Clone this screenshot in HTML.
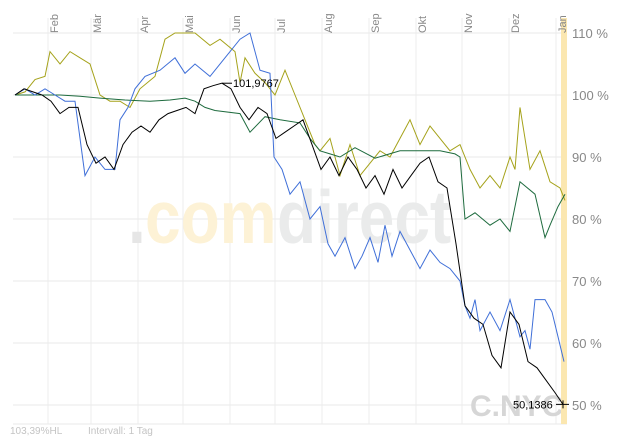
<!DOCTYPE html>
<html><head><meta charset="utf-8"><style>
body{margin:0;background:#fff;}
svg{display:block;font-family:"Liberation Sans",sans-serif;}
</style></head><body>
<svg id="chart" width="629" height="440" viewBox="0 0 629 440">
<g id="grid"></g>
<g transform="translate(128,243) scale(1,1.18)">
<text x="0" y="0" font-size="64" font-weight="bold" fill="#e6e6e6">.</text>
<text x="17" y="0" font-size="64" font-weight="bold" fill="#fdf2d6">com</text>
<text x="149" y="0" font-size="64" font-weight="bold" fill="#eaebeb">direct</text>
</g>
<text x="470" y="416" font-size="30" font-weight="bold" fill="#d6d6d6">C.NYC</text>
<rect x="561" y="18" width="6" height="406" fill="#fbe7b0"/>
<g id="series"></g>
<g id="labels"></g>
<text x="10" y="434" font-size="10" fill="#c4c4c4">103,39%HL</text>
<text x="88" y="434" font-size="10" fill="#c4c4c4">Intervall: 1 Tag</text>
</svg>
<script>
const months=["Feb","Mär","Apr","Mai","Jun","Jul","Aug","Sep","Okt","Nov","Dez","Jan"];
const monthX=[48,91,138,183,230,275,322,369,416,462,509,556];
const yTicks=[110,100,90,80,70,60,50];
const blackX=[15,24,33,42,51,60,69,78,87,96,105,114,123,132,141,150,159,168,177,186,195,204,213,222,231,240,249,258,267,276,285,294,303,312,321,330,339,348,357,366,375,384,393,402,411,420,429,438,447,456,465,474,483,492,501,510,519,528,537,546,555,563];
const blackV=[100,101,100.5,100,99,97,98,98,92,89,90,88,92,94,95,94,96,97,97.5,98,97,101,101.5,101.9,101,98,96,98,97,93,94,95,96,92,88,90,87,90,88,85,87,84,88,85,87,89,90,86,85,76,66,64,63,58,56,65,63,57,56,54,52,50.1];
const blueX=[15,25,35,45,55,65,75,85,95,105,115,120,128,135,145,160,175,185,195,210,225,240,250,260,270,274,282,290,300,310,320,328,335,345,355,362,370,378,385,392,400,410,420,430,440,450,460,465,470,475,480,490,500,510,520,525,530,535,545,552,558,564];
const blueV=[100,101,100,101,100,99,99,87,90,88,88,96,98,101,103,104,106,103.5,105,103,106,109,110,104,103.5,90,88,84,86,80,82,76,74,77,72,74,77,73,79,74,78,75,72,75,73,72,70,66,64,67,62,65,62,67,61,62,59,67,67,65,61,57];
const oliveX=[15,25,35,45,50,60,70,80,90,100,110,120,130,140,155,165,175,185,195,210,220,235,240,245,255,265,275,285,295,305,315,320,330,340,350,360,370,380,390,400,410,420,430,440,450,460,470,480,490,500,510,515,520,530,540,550,560,565];
const oliveV=[100,100.5,102.5,103,107,105,107,106,105,100,99,99,98,101,103,109,110,110,110,108,109,107,102,106,103.5,102,100,104,100,96,92,91,93,87,92,87,89,91,90,93,96,92,95,93,91,92,88,85,87,85,90,88,98,88,91,86,85,83];
const greenX=[15,40,60,80,100,125,150,170,185,195,205,215,240,250,265,280,300,310,320,330,340,355,375,400,420,440,455,460,465,475,490,500,510,520,535,545,550,558,565];
const greenV=[100,100,100,99.8,99.5,99.2,99,99.2,99.5,99,98,97.5,97,94,96.5,96,95.5,93,91,90.5,90,91.5,89.8,91,91,91,90.5,90,80,81,79,80,78,86,84,77,79,82,84];
const Y=v=>95+(100-v)*6.2;
const NS="http://www.w3.org/2000/svg";
const grid=document.getElementById('grid'),ser=document.getElementById('series'),lab=document.getElementById('labels');
function mk(tag,attrs,parent){const e=document.createElementNS(NS,tag);for(const k in attrs)e.setAttribute(k,attrs[k]);parent.appendChild(e);return e;}
yTicks.forEach(t=>{
 const l=mk('line',{x1:13,x2:567,y1:Y(t),y2:Y(t),stroke:'#e8e8e8'},grid);
 
 
 const tx=mk('text',{x:572,y:Y(t)+5,'font-size':13,fill:'#888'},lab);
 tx.textContent=t+' %';
 
 
});
const bl=mk('line',{x1:13,x2:567,y1:424,y2:424,stroke:'#e8e8e8'},grid);


months.forEach((m,i)=>{
 const x=monthX[i];
 const l=mk('line',{x1:x,x2:x,y1:18,y2:424,stroke:'#ececec'},grid);
 
 
 const tx=mk('text',{x:0,y:0,'font-size':11,fill:'#888',transform:`translate(${x+10},33) rotate(-90)`},lab);
 tx.textContent=m;
 
 
});
function line(xs,vs,color,name){
 const d=xs.map((x,i)=>(i?'L':'M')+x+' '+Y(vs[i]).toFixed(1)).join(' ');
 const p=mk('path',{d:d,fill:'none',stroke:color,'stroke-width':1},ser);
 
 
}
line(oliveX,oliveV,'#a5a21a','series-olive');
line(greenX,greenV,'#1e6b3e','series-green');
line(blueX,blueV,'#3f6fd8','series-blue');
line(blackX,blackV,'#000','series-c-nyc');
const maxV=Math.max(...blackV),lastV=blackV[blackV.length-1];
const m1=mk('line',{x1:222,x2:232,y1:Y(maxV),y2:Y(maxV),stroke:'#000'},lab);


const t1=mk('text',{x:233,y:Y(maxV)+4,'font-size':11,fill:'#000'},lab);
t1.textContent='101,9767';


const m2=mk('path',{d:`M556 ${Y(lastV)} L569 ${Y(lastV)} M563 ${Y(lastV)-4} L563 ${Y(lastV)+4}`,stroke:'#000'},lab);


const t2=mk('text',{x:513,y:Y(lastV)+4,'font-size':11,fill:'#000'},lab);
t2.textContent='50,1386';


</script>
</body></html>
